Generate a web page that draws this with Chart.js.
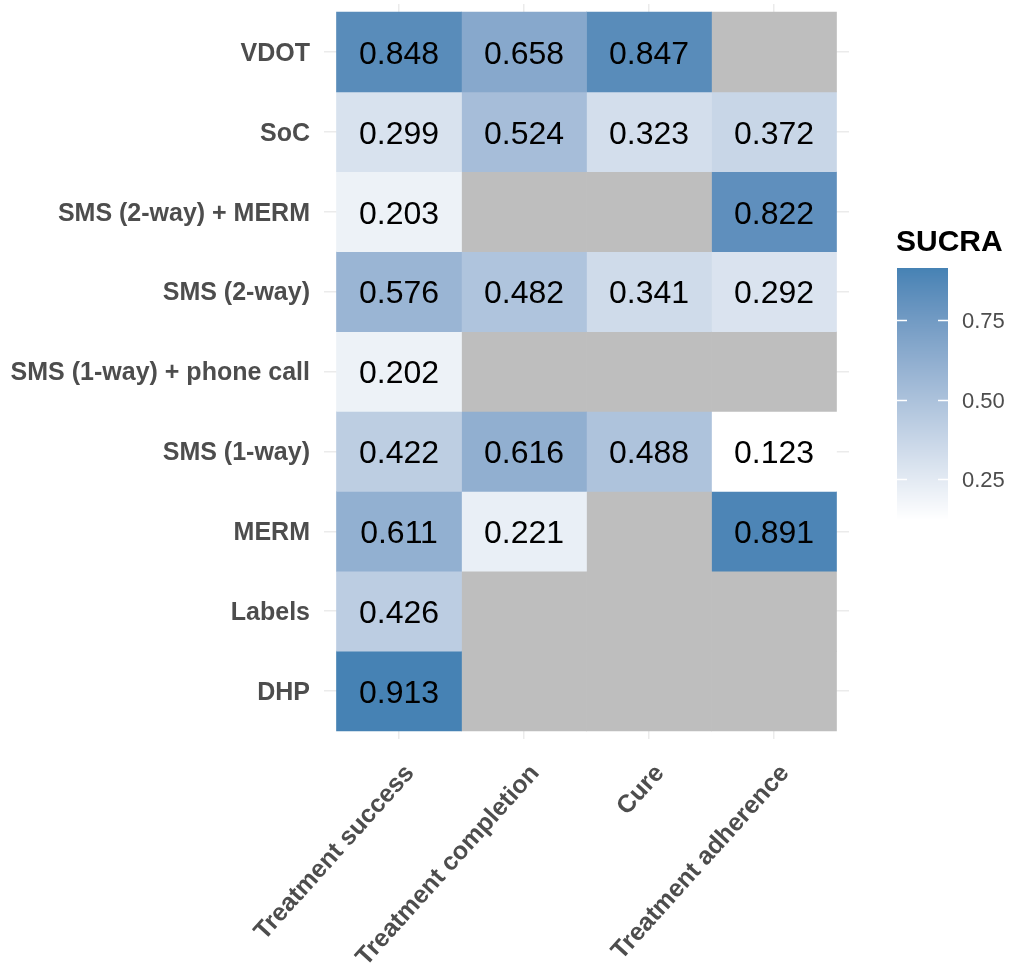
<!DOCTYPE html>
<html>
<head>
<meta charset="utf-8">
<script src="https://cdn.jsdelivr.net/npm/chart.js@4.4.1/dist/chart.umd.min.js"></script>
<style>
  html, body { margin: 0; padding: 0; background: #ffffff; }
  #wrap { width: 1016px; height: 967px; position: relative; }
</style>
</head>
<body>
<div id="wrap"><canvas id="c" width="1016" height="967"></canvas></div>
<script>
// Outcomes (columns, left to right)
const outcomes = ['Treatment success', 'Treatment completion', 'Cure', 'Treatment adherence'];
// Interventions (rows, bottom to top)
const interventions = ['DHP', 'Labels', 'MERM', 'SMS (1-way)', 'SMS (1-way) + phone call',
                       'SMS (2-way)', 'SMS (2-way) + MERM', 'SoC', 'VDOT'];
// SUCRA values per outcome, in the row order above (null = not estimated)
const treatmentSuccess    = [0.913, 0.426, 0.611, 0.422, 0.202, 0.576, 0.203, 0.299, 0.848];
const treatmentCompletion = [null,  null,  0.221, 0.616, null,  0.482, null,  0.524, 0.658];
const cure                = [null,  null,  null,  0.488, null,  0.341, null,  0.323, 0.847];
const treatmentAdherence  = [null,  null,  0.891, 0.123, null,  0.292, 0.822, 0.372, null];
const legendTicks = [0.25, 0.50, 0.75];
const legendTitle = 'SUCRA';

const columns = [treatmentSuccess, treatmentCompletion, cure, treatmentAdherence];

// ---- colour scale: white -> steelblue, interpolated in CIE Lab ----
function srgbToLinear(c) { c /= 255; return c <= 0.04045 ? c / 12.92 : Math.pow((c + 0.055) / 1.055, 2.4); }
function linearToSrgb(c) { const v = c <= 0.0031308 ? 12.92 * c : 1.055 * Math.pow(c, 1 / 2.4) - 0.055; return Math.max(0, Math.min(255, Math.round(v * 255))); }
const WX = 0.95047, WY = 1.0, WZ = 1.08883;
function fLab(t) { return t > 0.008856 ? Math.cbrt(t) : 7.787 * t + 16 / 116; }
function fLabInv(t) { const t3 = t * t * t; return t3 > 0.008856 ? t3 : (t - 16 / 116) / 7.787; }
function rgbToLab(r, g, b) {
  const R = srgbToLinear(r), G = srgbToLinear(g), B = srgbToLinear(b);
  const X = (R * 0.4124 + G * 0.3576 + B * 0.1805) / WX;
  const Y = (R * 0.2126 + G * 0.7152 + B * 0.0722) / WY;
  const Z = (R * 0.0193 + G * 0.1192 + B * 0.9505) / WZ;
  const fx = fLab(X), fy = fLab(Y), fz = fLab(Z);
  return [116 * fy - 16, 500 * (fx - fy), 200 * (fy - fz)];
}
function labToRgb(L, a, b) {
  const fy = (L + 16) / 116, fx = fy + a / 500, fz = fy - b / 200;
  const X = fLabInv(fx) * WX, Y = fLabInv(fy) * WY, Z = fLabInv(fz) * WZ;
  const R = X * 3.2406 + Y * -1.5372 + Z * -0.4986;
  const G = X * -0.9689 + Y * 1.8758 + Z * 0.0415;
  const B = X * 0.0557 + Y * -0.2040 + Z * 1.0570;
  return [linearToSrgb(R), linearToSrgb(G), linearToSrgb(B)];
}
const LOW_LAB = rgbToLab(255, 255, 255);
const HIGH_LAB = rgbToLab(70, 130, 180); // steelblue
const allValues = columns.flat().filter(v => v !== null);
const vMin = Math.min(...allValues), vMax = Math.max(...allValues);
function fillFor(v) {
  if (v === null || v === undefined) return '#bebebe';
  const t = (v - vMin) / (vMax - vMin);
  const L = LOW_LAB[0] + (HIGH_LAB[0] - LOW_LAB[0]) * t;
  const A = LOW_LAB[1] + (HIGH_LAB[1] - LOW_LAB[1]) * t;
  const B = LOW_LAB[2] + (HIGH_LAB[2] - LOW_LAB[2]) * t;
  const [r, g, b] = labToRgb(L, A, B);
  return `rgb(${r},${g},${b})`;
}

// ---- one floating-bar dataset per outcome; each bar spans one row ----
const datasets = columns.map((vals, ci) => ({
  label: outcomes[ci],
  data: vals.map((v, ri) => ({ x: ci, y: [ri - 0.5, ri + 0.5], v: v })),
  backgroundColor: vals.map(v => fillFor(v)),
  borderWidth: 0,
  barPercentage: 1,
  categoryPercentage: 1,
  grouped: false
}));

const AXIS_TEXT = '#4d4d4d';
const FONT = "'Liberation Sans', Arial, sans-serif";

// value labels written in the centre of each cell
const cellLabels = {
  id: 'cellLabels',
  afterDatasetsDraw(chart) {
    const ctx = chart.ctx;
    ctx.save();
    ctx.font = `32px ${FONT}`;
    ctx.fillStyle = '#000000';
    ctx.textAlign = 'center';
    ctx.textBaseline = 'middle';
    chart.data.datasets.forEach((ds, di) => {
      const meta = chart.getDatasetMeta(di);
      meta.data.forEach((el, i) => {
        const v = ds.data[i].v;
        if (v === null) return;
        const p = el.getCenterPoint();
        ctx.fillText(v.toFixed(3), p.x, p.y + 3);
      });
    });
    ctx.restore();
  }
};

// continuous colour bar legend on the right
const colourBar = {
  id: 'colourBar',
  afterDraw(chart) {
    const ctx = chart.ctx;
    const x0 = 897, w = 51, yTop = 268, yBot = 520;
    const pxPerUnit = (yBot - yTop) / (vMax - vMin);
    const yOf = v => yBot - (v - vMin) * pxPerUnit;
    ctx.save();
    for (let y = yTop; y < yBot; y++) {
      const v = vMax - (y + 0.5 - yTop) / pxPerUnit;
      ctx.fillStyle = fillFor(v);
      ctx.fillRect(x0, y, w, 1);
    }
    ctx.strokeStyle = '#ffffff';
    ctx.lineWidth = 1.5;
    ctx.font = `22px ${FONT}`;
    ctx.fillStyle = AXIS_TEXT;
    ctx.textAlign = 'left';
    ctx.textBaseline = 'middle';
    legendTicks.forEach(t => {
      const y = Math.round(yOf(t)) + 0.5;
      ctx.beginPath();
      ctx.moveTo(x0, y); ctx.lineTo(x0 + 10, y);
      ctx.moveTo(x0 + w - 10, y); ctx.lineTo(x0 + w, y);
      ctx.stroke();
      ctx.fillText(t.toFixed(2), 962, y + 1);
    });
    ctx.font = `bold 30px ${FONT}`;
    ctx.fillStyle = '#000000';
    ctx.textBaseline = 'middle';
    ctx.fillText(legendTitle, 896, 243);
    ctx.restore();
  }
};

new Chart(document.getElementById('c'), {
  type: 'bar',
  data: { datasets },
  options: {
    responsive: false,
    animation: false,
    events: [],
    layout: { padding: { left: 0, top: 4, right: 167, bottom: 0 } },
    plugins: { legend: { display: false }, tooltip: { enabled: false } },
    scales: {
      x: {
        type: 'linear',
        min: -0.6, max: 3.6,
        offset: false,
        afterBuildTicks: s => { s.ticks = outcomes.map((_, i) => ({ value: i })); },
        afterFit: s => { s.height = 228; s.paddingLeft = 0; s.paddingRight = 0; s.paddingTop = 0; s.paddingBottom = 0; },
        border: { display: false },
        grid: { color: '#ebebeb', lineWidth: 1.5, drawTicks: false, offset: false },
        ticks: {
          autoSkip: false,
          minRotation: 48, maxRotation: 48,
          padding: 20,
          labelOffset: 11,
          color: AXIS_TEXT,
          font: { family: FONT, size: 25, weight: 'bold' },
          callback: v => outcomes[v]
        }
      },
      y: {
        type: 'linear',
        min: -0.6, max: 8.6,
        afterBuildTicks: s => { s.ticks = interventions.map((_, i) => ({ value: i })); },
        afterFit: s => { s.width = 324; s.paddingLeft = 0; s.paddingRight = 0; s.paddingTop = 0; s.paddingBottom = 0; },
        border: { display: false },
        grid: { color: '#ebebeb', lineWidth: 1.5, drawTicks: false },
        ticks: {
          autoSkip: false,
          padding: 14,
          labelOffset: 2,
          color: AXIS_TEXT,
          font: { family: FONT, size: 25, weight: 'bold' },
          callback: v => interventions[v]
        }
      }
    }
  },
  plugins: [cellLabels, colourBar]
});
</script>
</body>
</html>
